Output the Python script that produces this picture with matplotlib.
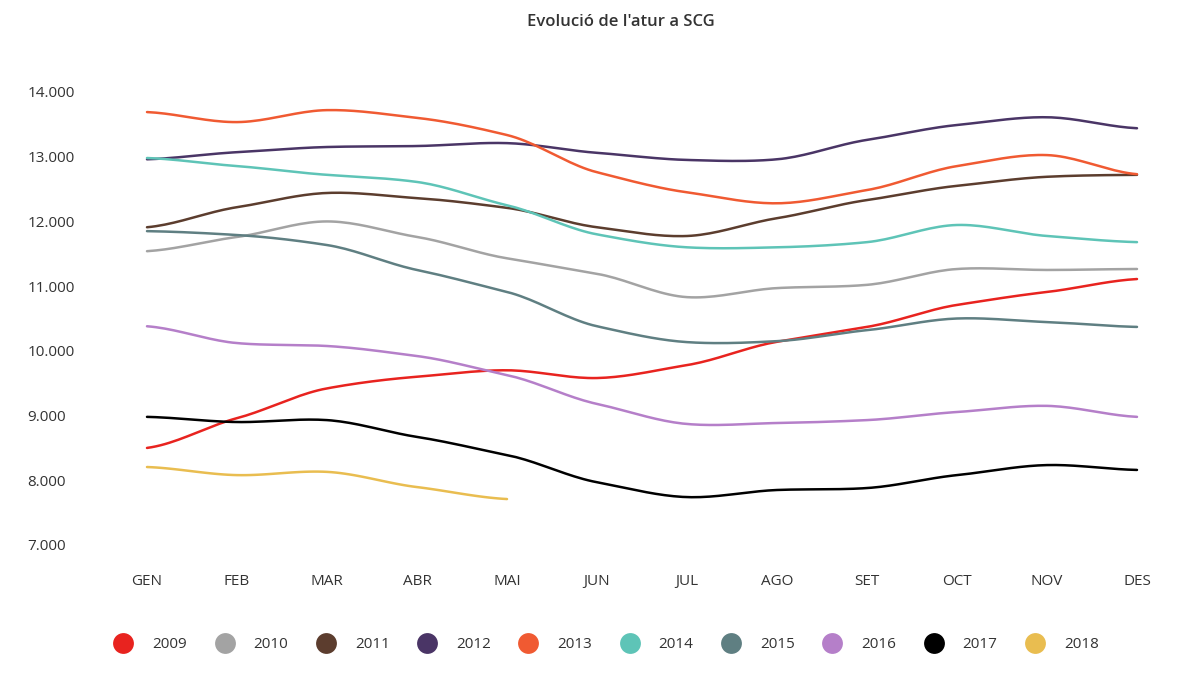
import numpy as np
import matplotlib
matplotlib.use("Agg")
import matplotlib.pyplot as plt
from matplotlib.lines import Line2D
from matplotlib.ticker import FuncFormatter

# Dades (atur registrat per mes)
mesos = ["GEN", "FEB", "MAR", "ABR", "MAI", "JUN", "JUL", "AGO", "SET", "OCT", "NOV", "DES"]

anys = ["2009", "2010", "2011", "2012", "2013", "2014", "2015", "2016", "2017", "2018"]

atur_2009 = [8500, 8960, 9420, 9600, 9700, 9580, 9780, 10140, 10370, 10710, 10910, 11110]
atur_2010 = [11540, 11760, 12000, 11760, 11430, 11190, 10830, 10970, 11020, 11265, 11250, 11265]
atur_2011 = [11910, 12220, 12440, 12360, 12210, 11910, 11775, 12050, 12330, 12550, 12690, 12720]
atur_2012 = [12960, 13070, 13150, 13165, 13210, 13060, 12950, 12960, 13260, 13490, 13610, 13440]
atur_2013 = [13690, 13535, 13720, 13600, 13335, 12760, 12450, 12280, 12485, 12855, 13025, 12730]
atur_2014 = [12980, 12855, 12720, 12610, 12250, 11800, 11600, 11600, 11680, 11945, 11775, 11680]
atur_2015 = [11850, 11790, 11635, 11250, 10910, 10380, 10135, 10150, 10320, 10500, 10445, 10370]
atur_2016 = [10380, 10120, 10075, 9920, 9625, 9180, 8870, 8885, 8930, 9055, 9150, 8980]
atur_2017 = [8980, 8900, 8930, 8670, 8390, 7970, 7740, 7850, 7880, 8080, 8235, 8160]
atur_2018 = [8205, 8080, 8130, 7895, 7710]

series = [atur_2009, atur_2010, atur_2011, atur_2012, atur_2013,
          atur_2014, atur_2015, atur_2016, atur_2017, atur_2018]

colors = ["#e8231f", "#a3a3a3", "#5c3d2e", "#4a3566", "#f05a32",
          "#5ec4b7", "#5f7f82", "#b57fc9", "#000000", "#e9bd50"]


def spline(x, y, n=20):
    """Corba suau (Catmull-Rom) que passa per tots els punts."""
    x = np.asarray(x, float)
    y = np.asarray(y, float)
    xp = np.concatenate([[2 * x[0] - x[1]], x, [2 * x[-1] - x[-2]]])
    yp = np.concatenate([[y[0]], y, [y[-1]]])
    xs, ys = [], []
    t = np.linspace(0, 1, n, endpoint=False)
    for i in range(1, len(xp) - 2):
        p0, p1, p2, p3 = yp[i - 1], yp[i], yp[i + 1], yp[i + 2]
        m1 = (p2 - p0) / 2 * 0.8
        m2 = (p3 - p1) / 2 * 0.8
        h00 = 2 * t**3 - 3 * t**2 + 1
        h10 = t**3 - 2 * t**2 + t
        h01 = -2 * t**3 + 3 * t**2
        h11 = t**3 - t**2
        ys.append(h00 * p1 + h10 * m1 + h01 * p2 + h11 * m2)
        xs.append(xp[i] + t * (xp[i + 1] - xp[i]))
    xs.append([x[-1]])
    ys.append([y[-1]])
    return np.concatenate(xs), np.concatenate(ys)


plt.rcParams['font.family'] = ['Open Sans', 'DejaVu Sans']

fig = plt.figure(figsize=(12, 6.75), dpi=100)
ax = fig.add_axes([147 / 1200, 1 - 545 / 675, (1137 - 147) / 1200, (545 - 92) / 675])

for valors, color, any_ in zip(series, colors, anys):
    xs, ys = spline(range(len(valors)), valors)
    ax.plot(xs, ys, color=color, lw=1.8, label=any_, clip_on=False,
            solid_capstyle="round")

ax.set_xlim(0, len(mesos) - 1)
ax.set_ylim(7000, 14000)
ax.set_yticks(range(7000, 14001, 1000))
ax.yaxis.set_major_formatter(FuncFormatter(lambda v, p: f"{int(v):,}".replace(",", ".")))
ax.set_xticks(range(len(mesos)))
ax.set_xticklabels(mesos)

for s in ax.spines.values():
    s.set_visible(False)
ax.tick_params(axis="both", length=0, labelsize=11, colors="#333333")
ax.tick_params(axis="x", pad=21)
ax.tick_params(axis="y", pad=86)
for lab in ax.get_yticklabels():
    lab.set_horizontalalignment("left")

fig.text(0.517, 1 - 22 / 675, "Evolució de l'atur a SCG", ha="center", va="center",
         fontsize=12, fontweight="semibold", color="#333333")

handles = [Line2D([], [], ls="none", marker="o", markersize=15, color=c,
                  markeredgewidth=0) for c in colors]
fig.legend(handles, anys, loc="center", bbox_to_anchor=(0.506, 1 - 645 / 675),
           ncol=10, frameon=False, fontsize=11, handlelength=1.0,
           handletextpad=1.4, columnspacing=1.95, labelcolor="#333333")

fig.savefig("out.png", dpi=100, facecolor="white")
